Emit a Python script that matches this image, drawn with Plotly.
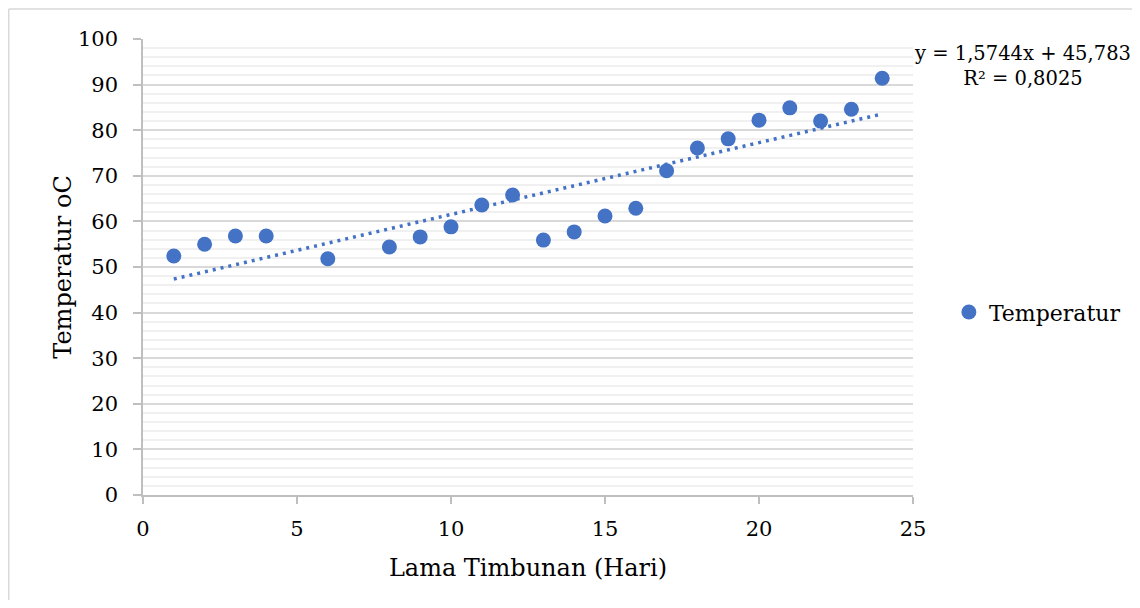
import plotly.graph_objects as go

days = [1, 2, 3, 4, 6, 8, 9, 10, 11, 12, 13, 14, 15, 16, 17, 18, 19, 20, 21, 22, 23, 24]
temperature = [52.4, 55.0, 56.8, 56.8, 51.8, 54.4, 56.6, 58.8, 63.6, 65.8, 55.9, 57.7,
               61.2, 62.9, 71.1, 76.1, 78.1, 82.2, 84.9, 82.0, 84.6, 91.4]
slope = 1.5744
intercept = 45.783
r2 = 0.8025

x_tick_vals = [0, 5, 10, 15, 20, 25]
y_tick_vals = [0, 10, 20, 30, 40, 50, 60, 70, 80, 90, 100]

FONT = "DejaVu Serif"
BLUE = "#4472C4"

trend_x = [min(days), max(days)]
trend_y = [slope * v + intercept for v in trend_x]

fig = go.Figure()
fig.add_trace(go.Scatter(
    x=trend_x, y=trend_y, mode="lines",
    line=dict(color=BLUE, width=3.5, dash="3px,5px"),
    showlegend=False, hoverinfo="skip"))
fig.add_trace(go.Scatter(
    x=days, y=temperature, mode="markers", name="Temperatur",
    marker=dict(color=BLUE, size=15)))

def fmt(v, d):
    return f"{v:.{d}f}".replace(".", ",")

eq_text = f"y = {fmt(slope, 4)}x + {fmt(intercept, 3)}<br>R² = {fmt(r2, 4)}"

border = dict(color="#D9D9D9", width=1.5)

fig.update_layout(
    width=1124, height=592,
    margin=dict(l=135, r=219, t=31, b=105, autoexpand=False),
    paper_bgcolor="white", plot_bgcolor="white",
    font=dict(family=FONT, size=21, color="#000000"),
    xaxis=dict(
        range=[0, 25], tickvals=x_tick_vals, showgrid=False, zeroline=False,
        showline=True, linecolor="#BFBFBF", linewidth=1.5,
        ticks="outside", ticklen=7, tickcolor="#BFBFBF", tickwidth=1.5,
        ticklabelstandoff=7, automargin=False,
        title=dict(text="Lama Timbunan (Hari)", font=dict(size=24), standoff=19),
    ),
    yaxis=dict(
        range=[0, 100], tickvals=y_tick_vals, showgrid=True, gridcolor="#D9D9D9",
        gridwidth=1.5, zeroline=False,
        showline=True, linecolor="#BFBFBF", linewidth=1.5,
        ticks="outside", ticklen=8, tickcolor="#BFBFBF", tickwidth=1.5,
        ticklabelstandoff=11, automargin=False,
        minor=dict(dtick=2, showgrid=True, gridcolor="#F0F0F0", gridwidth=1.5),
        title=dict(text="Temperatur oC", font=dict(size=24), standoff=0),
    ),
    legend=dict(x=1.0466, y=0.401, xanchor="left", yanchor="middle",
                font=dict(size=22), itemwidth=30, bgcolor="rgba(0,0,0,0)"),
    annotations=[dict(
        text=eq_text, x=1.1416, y=0.94, xref="paper", yref="paper",
        xanchor="center", yanchor="middle", showarrow=False, align="center",
        font=dict(size=19.5))],
    shapes=[
        dict(type="line", xref="paper", yref="paper",
             x0=-0.1744, x1=-0.1744, y0=-0.4, y1=1.0658, line=border, layer="below"),
        dict(type="line", xref="paper", yref="paper",
             x0=-0.1744, x1=1.4, y0=1.0658, y1=1.0658, line=border, layer="below"),
    ],
)

fig.write_html("out.html")
